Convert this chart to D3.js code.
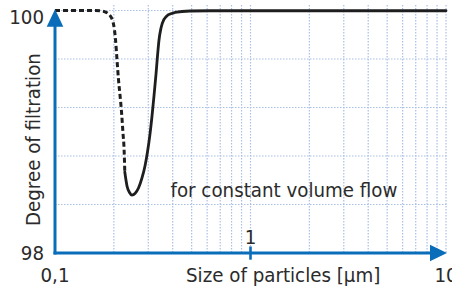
<!DOCTYPE html>
<html><head><meta charset="utf-8"><script src="https://cdn.jsdelivr.net/npm/d3@7"></script>
<style>body{margin:0;background:#fff}</style></head>
<body>
<svg id="chart" width="452" height="286"></svg>
<script>
// ---- data ----
const xDomain = [0.1, 10];
const yDomain = [98, 100];
const yGridValues = [98, 98.4, 98.8, 99.2, 99.6, 100];
const yTickLabels = [{v: 100, t: "100"}, {v: 98, t: "98"}];
const xTickLabels = [{v: 0.1, t: "0,1"}, {v: 10, t: "10"}];
const xMidTick = {v: 1, t: "1"};
// dashed branch (left side)
const dashedX = [0.1, 0.1602, 0.1699, 0.1781, 0.1867, 0.1934, 0.1981, 0.2015, 0.2040, 0.2076, 0.2113, 0.2150, 0.2189, 0.2227, 0.2259, 0.2275];
const dashedY = [100, 100, 99.998, 99.992, 99.975, 99.946, 99.905, 99.839, 99.757, 99.592, 99.427, 99.303, 99.163, 98.990, 98.833, 98.668];
// solid branch (right side)
const solidX = [0.2275, 0.2335, 0.2405, 0.2476, 0.2566, 0.2674, 0.2786, 0.2886, 0.2972, 0.3061, 0.3135, 0.3209, 0.3286, 0.3344, 0.3404, 0.3485, 0.3610, 0.3784, 0.4111, 0.4904, 0.6206, 10];
const solidY = [98.668, 98.553, 98.499, 98.478, 98.491, 98.536, 98.619, 98.718, 98.833, 98.981, 99.130, 99.295, 99.476, 99.625, 99.757, 99.856, 99.926, 99.963, 99.984, 99.996, 99.998, 99.998];

const annotation = "for constant volume flow";
const xTitle = "Size of particles [μm]";
const yTitle = "Degree of filtration";

// ---- chart ----
const FONT = "'DejaVu Sans Condensed','DejaVu Sans',sans-serif";
const BLUE = "#0a6db9";
const GRID = "#a9bfe6";
const TEXT = "#2b2b2b";

const svg = d3.select("#chart");
const x = d3.scaleLog().domain(xDomain).range([55, 446]);
const y = d3.scaleLinear().domain(yDomain).range([253, 10.5]);

// grid
const gx = x.ticks().filter(d => d > 0.1 + 1e-9);
svg.append("g").selectAll("line").data(gx).join("line")
  .attr("x1", d => x(d)).attr("x2", d => x(d))
  .attr("y1", 5).attr("y2", y(98))
  .attr("stroke", GRID).attr("stroke-width", 1.2).attr("stroke-dasharray", "1.5,1.5");
svg.append("g").selectAll("line").data(yGridValues.filter(d => d > 98)).join("line")
  .attr("x1", x(0.1)).attr("x2", x(10) + 2)
  .attr("y1", d => y(d)).attr("y2", d => y(d))
  .attr("stroke", GRID).attr("stroke-width", 1.2).attr("stroke-dasharray", "1.5,1.5");

// curves
const line = d3.line().x(d => x(d[0])).y(d => y(d[1])).curve(d3.curveMonotoneX);
const dashed = dashedX.map((v, i) => [v, dashedY[i]]);
const solid = solidX.map((v, i) => [v, solidY[i]]);
svg.append("path").attr("d", line(dashed)).attr("fill", "none")
  .attr("stroke", "#1e1e1e").attr("stroke-width", 3).attr("stroke-dasharray", "5,3");
svg.append("path").attr("d", line(solid)).attr("fill", "none")
  .attr("stroke", "#1e1e1e").attr("stroke-width", 2.8).attr("stroke-linecap", "round");

// axes
const x0 = x(0.1), yb = y(98);
svg.append("line").attr("x1", x0).attr("x2", x0).attr("y1", yb + 1.5).attr("y2", 24)
  .attr("stroke", BLUE).attr("stroke-width", 3);
svg.append("line").attr("x1", x0 - 1.5).attr("x2", 432).attr("y1", yb).attr("y2", yb)
  .attr("stroke", BLUE).attr("stroke-width", 3);
svg.append("path").attr("d", `M${x0},9.3 L${x0 + 8.3},26.7 L${x0 - 8.3},26.7 Z`).attr("fill", BLUE);
svg.append("path").attr("d", `M447,${yb} L430,${yb - 8.3} L430,${yb + 8.3} Z`).attr("fill", BLUE);
svg.append("line").attr("x1", x(xMidTick.v)).attr("x2", x(xMidTick.v))
  .attr("y1", yb - 6.5).attr("y2", yb + 6.7).attr("stroke", BLUE).attr("stroke-width", 2.6);

// labels
const txt = (sel) => sel.style("font-family", FONT).style("font-size", "20.3px").attr("fill", TEXT);
svg.append("g").selectAll("text").data(yTickLabels).join("text")
  .attr("x", 44).attr("y", d => Math.max(y(d.v), 16.7) + 7.2)
  .attr("text-anchor", "end").text(d => d.t).call(txt);
svg.append("g").selectAll("text").data(xTickLabels).join("text")
  .attr("x", d => x(d.v)).attr("y", 282)
  .attr("text-anchor", "middle").text(d => d.t).call(txt);
svg.append("text").attr("x", x(xMidTick.v)).attr("y", 244).attr("text-anchor", "middle")
  .text(xMidTick.t).call(txt);
svg.append("text").attr("x", 186).attr("y", 282).text(xTitle).call(txt);
svg.append("text").attr("transform", "translate(39.5,226) rotate(-90)").text(yTitle).call(txt);
svg.append("text").attr("x", 170.5).attr("y", 196.5).text(annotation).call(txt);
</script></body></html>
